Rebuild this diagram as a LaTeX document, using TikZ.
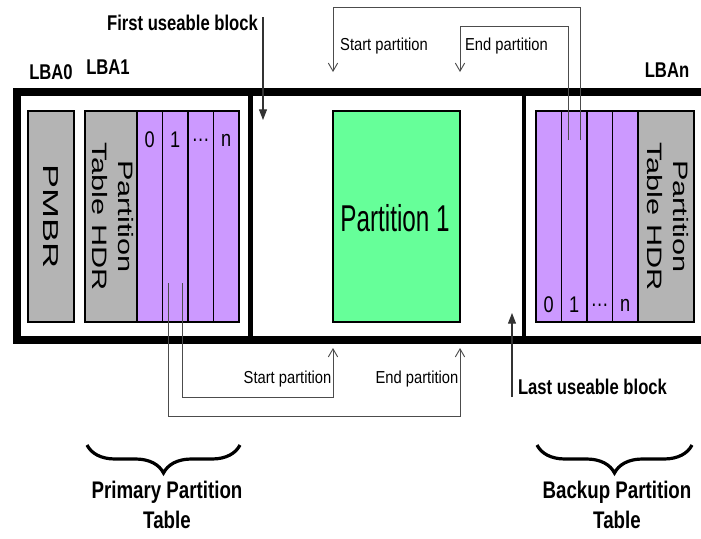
\documentclass[tikz,border=0pt]{standalone}
\usepackage{fontspec}
\setmainfont{Liberation Sans}
\usepackage{graphicx}
\usepackage{xcolor}
\usetikzlibrary{arrows.meta,decorations.pathreplacing}

\definecolor{hdrgray}{RGB}{180,180,180}
\definecolor{slotpurple}{RGB}{204,153,255}
\definecolor{partgreen}{RGB}{102,255,153}

\newcommand{\boldlbl}[2][16]{\scalebox{0.78}[1]{\fontsize{#1}{#1}\selectfont\bfseries #2}}
\newcommand{\thinlbl}[1]{\scalebox{0.85}[1]{\fontsize{13}{13}\selectfont #1}}
\newcommand{\slotlbl}[1]{\scalebox{0.8}[1]{\fontsize{17}{17}\selectfont #1}}
\newcommand{\hdrtext}{\scalebox{1}[0.68]{\fontsize{23}{29}\selectfont\begin{tabular}{@{}c@{}}Partition\\Table HDR\end{tabular}}}

\tikzset{
  blk/.style={draw, line width=1.1pt, inner sep=0pt, minimum height=158.25pt},
  link/.style={draw=black!70, line width=0.7pt},
  openarr/.style={link, -{Straight Barb[length=6pt,width=7pt]}},
  fillarr/.style={draw=black!80, line width=0.8pt, -{Triangle[length=8pt,width=6pt]}},
  brc/.style={decorate, decoration={brace, amplitude=21pt}, line width=2.4pt},
}

\begin{document}
\begin{tikzpicture}[x=0.75pt,y=0.75pt,yscale=-1,xscale=1]
\useasboundingbox (0,0) rectangle (701,539);

%Disk frame
\draw[line width=6pt] (701,92) -- (16.5,92) -- (16.5,340) -- (701,340);
\draw[line width=3.75pt] (250.5,92) -- (250.5,340);
\draw[line width=3.5pt] (524,92) -- (524,340);

%PMBR
\node[blk, fill=hdrgray, minimum width=34.5pt] (pmbr) at (51,216.5) {};
\node[rotate=-90] (pmbrtxt) at (pmbr.center) {\scalebox{1}[0.6]{\fontsize{27}{27}\selectfont PMBR}};

%Primary table header
\node[blk, fill=hdrgray, minimum width=39pt] (hdrA) at (111,216.5) {};
\node[rotate=-90] (hdrAtxt) at (hdrA.center) {\hdrtext};

%Primary entries
\foreach \i/\t in {0/0,1/1,2/\dots,3/n}{
  \node[blk, fill=slotpurple, minimum width=19.125pt] (pe\i) at (149.75+25.5*\i,216.5) {};
  \node (pe\i lbl) at (149.75+25.5*\i,140) {\slotlbl{\t}};
}

%Partition 1
\node[blk, fill=partgreen, minimum width=95.25pt] (part1) at (396.5,216.5) {};
\node (part1txt) at (395,218) {\scalebox{0.65}[1]{\fontsize{28}{28}\selectfont Partition 1}};

%Backup entries
\foreach \i/\t in {0/0,1/1,2/\dots,3/n}{
  \node[blk, fill=slotpurple, minimum width=19.125pt] (be\i) at (548.75+25.5*\i,216.5) {};
  \node (be\i lbl) at (548.75+25.5*\i,305) {\slotlbl{\t}};
}

%Backup table header
\node[blk, fill=hdrgray, minimum width=42pt] (hdrB) at (666,216.5) {};
\node[rotate=-90] (hdrBtxt) at (hdrB.center) {\hdrtext};

% LBA labels
\node (lba0) at (51,72) {\boldlbl{LBA0}};
\node (lba1) at (108,67) {\boldlbl{LBA1}};
\node (lban) at (667,70) {\boldlbl{LBAn}};

% First / last useable block
\node (firstlbl) at (182.5,23) {\boldlbl{First useable block}};
\node (lastlbl) at (592.5,387) {\boldlbl{Last useable block}};
\coordinate (firsttop) at (263,17);
\coordinate (firstblk) at (263,120);
\coordinate (lastbot) at (512,397);
\coordinate (lastblk) at (512,313);
\draw[fillarr] (firsttop) -- (firstblk);
\draw[fillarr] (lastbot) -- (lastblk);

% Backup entry -> partition 1
\coordinate (bkS) at (580,140);
\coordinate (bkE) at (568,140);
\coordinate (p1S) at (333,72);
\coordinate (p1E) at (460,72);
\draw[openarr] (bkS) -- ++(0,-133) -| (p1S);
\draw[openarr] (bkE) -- ++(0,-114) -| (p1E);
\node (stTop) at (384,46) {\thinlbl{Start partition}};
\node (enTop) at (506.5,46) {\thinlbl{End partition}};

% Primary entry -> partition 1
\coordinate (prS) at (182,283);
\coordinate (prE) at (168,283);
\coordinate (p1Sb) at (333,348);
\coordinate (p1Eb) at (460,348);
\draw[openarr] (prS) -- ++(0,114) -| (p1Sb);
\draw[openarr] (prE) -- ++(0,133) -| (p1Eb);
\node (stBot) at (287.5,379) {\thinlbl{Start partition}};
\node (enBot) at (417,379) {\thinlbl{End partition}};

% Braces
\draw[brc] (240,445) -- (87,445);
\draw[brc] (692,445) -- (537,445);
\node (primlbl) at (167,507) {\scalebox{0.78}[1]{\fontsize{18}{22.5}\selectfont\bfseries\begin{tabular}{@{}c@{}}Primary Partition\\Table\end{tabular}}};
\node (backlbl) at (617,507) {\scalebox{0.78}[1]{\fontsize{18}{22.5}\selectfont\bfseries\begin{tabular}{@{}c@{}}Backup Partition\\Table\end{tabular}}};
\end{tikzpicture}
\end{document}
